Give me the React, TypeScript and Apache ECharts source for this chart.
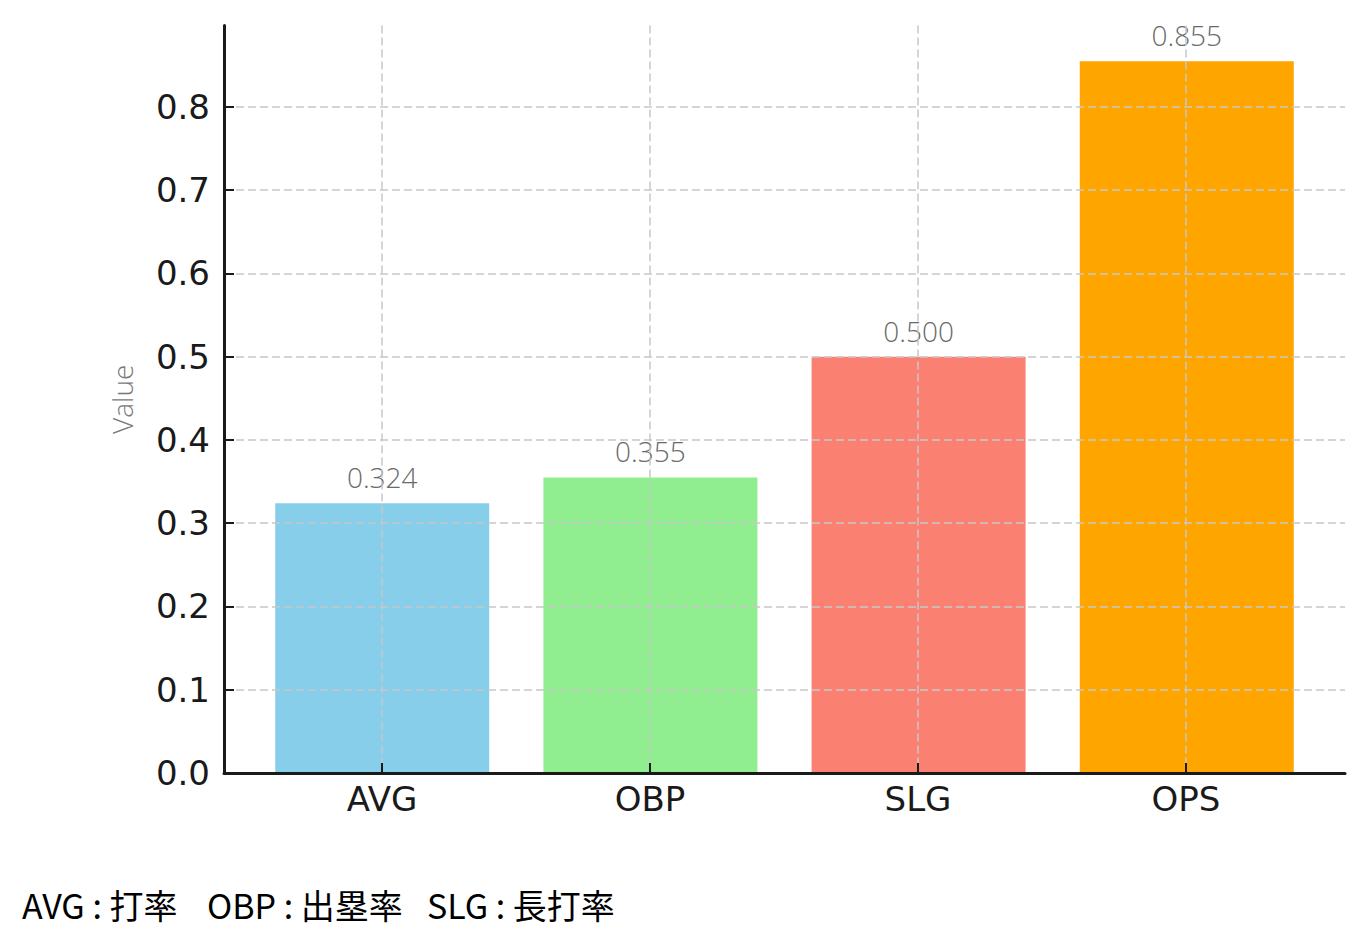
import React, { useEffect, useRef } from "react";
import * as echarts from "echarts";

const categories = ["AVG", "OBP", "SLG", "OPS"];
const values = [0.324, 0.355, 0.5, 0.855];
const barColors = ["#87CEEB", "#90EE90", "#FA8072", "#FFA500"];
const yTickStep = 0.1;
const yMax = 0.855 * 1.05;
const footnotes = ["AVG : 打率", "OBP : 出塁率", "SLG : 長打率"];

export default function App() {
  const ref = useRef<HTMLDivElement>(null);
  useEffect(() => {
    if (!ref.current) return;
    const chart = echarts.init(ref.current, null, { renderer: "svg" });
    const grid = "#c8c8c8";
    const dash = [8, 4];
    const option: any = {
      animation: false,
      backgroundColor: "#ffffff",
      grid: [
        { left: 224, right: 22, top: 25.6, bottom: 179 },
        { left: 382, right: 181, top: 25.6, bottom: 179 },
      ],
      xAxis: [
        {
          type: "value",
          gridIndex: 0,
          min: -0.59,
          max: 3.59,
          axisLine: { show: true, onZero: false, lineStyle: { color: "#1a1a1a", width: 3 } },
          axisTick: { show: false },
          axisLabel: { show: false },
          splitLine: { show: false },
          z: 10,
        },
        {
          type: "category",
          gridIndex: 1,
          data: categories,
          boundaryGap: false,
          axisLine: { show: false, onZero: false },
          axisTick: { show: true, inside: true, length: 10, lineStyle: { color: "#1a1a1a", width: 2 } },
          axisLabel: { fontSize: 34, color: "#1a1a1a", fontFamily: "DejaVu Sans", margin: 9 },
          splitLine: { show: true, lineStyle: { color: grid, width: 1.5, type: dash } },
          z: 10,
        },
      ],
      yAxis: [
        {
          type: "value",
          gridIndex: 0,
          min: 0,
          max: yMax,
          interval: yTickStep,
          name: "Value",
          nameLocation: "middle",
          nameGap: 88,
          nameTextStyle: { fontSize: 28, color: "#7a7a7a", fontFamily: "Open Sans", fontWeight: 300 },
          axisLine: { show: true, onZero: false, lineStyle: { color: "#1a1a1a", width: 3 } },
          axisTick: { show: true, inside: true, length: 10, lineStyle: { color: "#1a1a1a", width: 2 } },
          axisLabel: {
            fontSize: 34,
            color: "#1a1a1a",
            fontFamily: "DejaVu Sans",
            margin: 14,
            showMaxLabel: false,
            formatter: (v: number) => v.toFixed(1),
          },
          splitLine: { show: true, showMaxLine: false, lineStyle: { color: grid, width: 1.5, type: dash } },
          z: 10,
        },
        { type: "value", gridIndex: 1, min: 0, max: yMax, show: false },
      ],
      series: [
        {
          type: "bar",
          xAxisIndex: 0,
          yAxisIndex: 0,
          barWidth: 214,
          data: values.map((v, i) => ({ value: [i, v], itemStyle: { color: barColors[i] } })),
          label: {
            show: true,
            position: "top",
            distance: 12,
            fontSize: 28,
            color: "#6a6a6a",
            fontFamily: "Open Sans",
            fontWeight: 300,
            formatter: (p: any) => p.value[1].toFixed(3),
          },
          z: 2,
        },
      ],
      graphic: footnotes.map((t, i) => ({
        type: "text",
        left: [22, 207, 427][i],
        top: 887,
        style: { text: t, fontSize: 34, fill: "#000", fontFamily: "Noto Sans CJK JP" },
      })),
    };
    chart.setOption(option);
    return () => chart.dispose();
  }, []);
  return <div ref={ref} style={{ width: 1367, height: 952, position: "absolute", left: 0, top: 0 }} />;
}
